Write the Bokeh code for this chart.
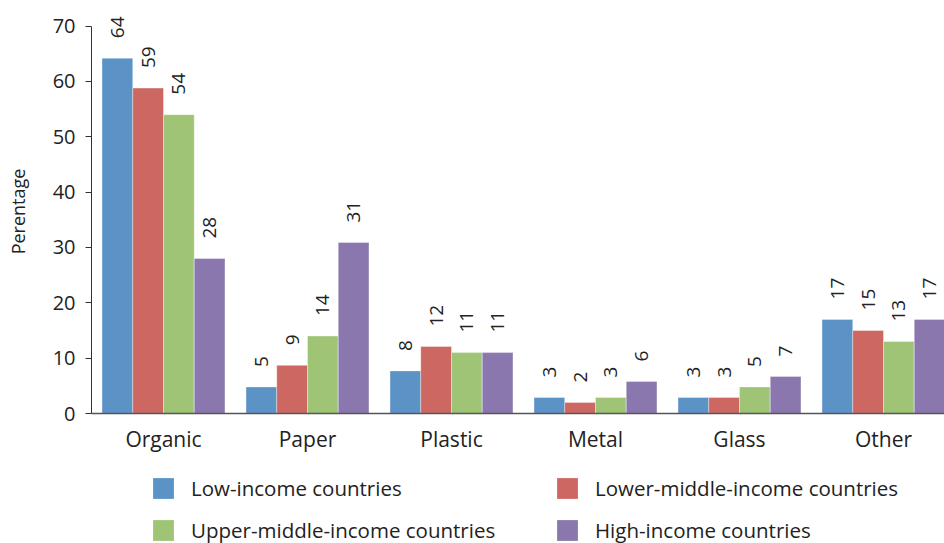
import numpy as np
from bokeh.plotting import figure
from bokeh.layouts import column
from bokeh.models import (ColumnDataSource, Range1d, FixedTicker, Legend, LegendItem)
from bokeh.transform import dodge
from bokeh.core.properties import value
from bokeh.embed import file_html
from bokeh.resources import INLINE

categories = ["Organic", "Paper", "Plastic", "Metal", "Glass", "Other"]
series_names = ["Low-income countries", "Lower-middle-income countries",
                "Upper-middle-income countries", "High-income countries"]
low_income = [64.2, 4.8, 7.7, 2.9, 2.9, 17.0]
lower_middle = [58.8, 8.7, 12.1, 2.0, 2.9, 15.0]
upper_middle = [54.0, 14.0, 11.0, 2.9, 4.8, 13.0]
high_income = [28.0, 30.9, 11.0, 5.8, 6.7, 17.0]
y_ticks = [0, 10, 20, 30, 40, 50, 60, 70]

colors = ["#5b93c7", "#cc6762", "#9fc475", "#8a77ae"]
FONT = "Open Sans"
TXT = "#222222"

centers = list(np.arange(len(categories)) + 0.5)

src = ColumnDataSource(dict(
    x=centers,
    s0=low_income, s1=lower_middle, s2=upper_middle, s3=high_income,
    l0=[str(int(round(v))) for v in low_income],
    l1=[str(int(round(v))) for v in lower_middle],
    l2=[str(int(round(v))) for v in upper_middle],
    l3=[str(int(round(v))) for v in high_income],
))

p = figure(width=944, height=458, output_backend="svg", toolbar_location=None,
           x_range=Range1d(0, 853 / 144), y_range=Range1d(0, 73.0),
           min_border_left=91, min_border_right=0, min_border_top=9, min_border_bottom=45)
p.outline_line_color = None
p.xgrid.visible = False
p.ygrid.visible = False

bw = 0.2135
offsets = [-1.5 * bw, -0.5 * bw, 0.5 * bw, 1.5 * bw]
for i in range(4):
    p.vbar(x=dodge("x", offsets[i], range=p.x_range), top=f"s{i}", width=bw,
           source=src, fill_color=colors[i], line_color="white", line_width=0.6,
           line_alpha=0.6)
    p.text(x=dodge("x", offsets[i], range=p.x_range), y=f"s{i}", text=f"l{i}", source=src,
           angle=np.pi / 2, text_align="left", text_baseline="middle",
           y_offset=-20, text_font=value(FONT), text_font_size="19px", text_color=TXT)

# y axis
ya = p.yaxis[0]
ya.ticker = FixedTicker(ticks=y_ticks)
ya.bounds = (0, 70)
ya.minor_tick_line_color = None
ya.major_tick_in = 0
ya.major_tick_out = 6
ya.axis_line_color = "#333333"
ya.major_tick_line_color = "#333333"
ya.major_label_text_font = FONT
ya.major_label_text_font_size = "20px"
ya.major_label_text_color = TXT
ya.major_label_standoff = 10
ya.axis_label = "Perentage"
ya.axis_label_text_font = FONT
ya.axis_label_text_font_size = "18px"
ya.axis_label_text_font_style = "normal"
ya.axis_label_text_color = TXT
ya.axis_label_standoff = 20

# x axis
xa = p.xaxis[0]
xa.ticker = FixedTicker(ticks=centers)
xa.major_label_overrides = {c: n for c, n in zip(centers, categories)}
xa.minor_tick_line_color = None
xa.major_tick_in = 0
xa.major_tick_out = 0
xa.axis_line_color = "#555555"
xa.axis_line_width = 1.5
xa.major_label_text_font = FONT
xa.major_label_text_font_size = "21px"
xa.major_label_text_color = TXT
xa.major_label_standoff = 11

# legend in its own strip below (bars there lie outside its view; only the legend shows)
lg = figure(width=944, height=85, output_backend="svg", toolbar_location=None,
            x_range=Range1d(0, 853 / 144), y_range=Range1d(200, 201),
            x_axis_location=None, y_axis_location=None, min_border=0)
lg.outline_line_color = None
lg.xgrid.visible = False
lg.ygrid.visible = False
leg_renderers = []
for i in range(4):
    r = lg.vbar(x="x", top=f"s{i}", width=bw, source=src,
                fill_color=colors[i], line_color=None)
    leg_renderers.append(r)
order = [0, 2, 1, 3]  # column-major fill -> rows: (Low, Lower-middle), (Upper-middle, High)
items = [LegendItem(label=series_names[i], renderers=[leg_renderers[i]]) for i in order]
legend = Legend(items=items, ncols=2, location=(59, -1), margin=0, padding=0,
                border_line_color=None, background_fill_alpha=0,
                glyph_width=26, glyph_height=26, label_standoff=15, spacing=14,
                label_width=349, label_text_font=FONT, label_text_font_size="20.5px",
                label_text_color=TXT, label_height=26)
lg.add_layout(legend, "center")

open("out.html", "w").write(file_html(column(p, lg, spacing=0), INLINE))
